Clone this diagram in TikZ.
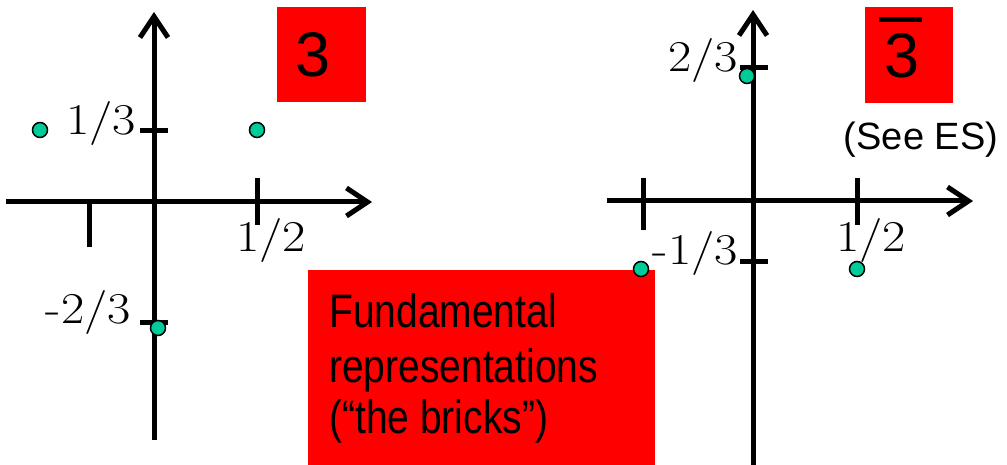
\documentclass[tikz,border=0pt]{standalone}
\usepackage{fontspec}
\setmainfont{Liberation Sans}
\newfontfamily\numfont[FakeStretch=1.15]{Latin Modern Roman}
\newfontfamily\narrowfont[FakeStretch=0.83]{Liberation Sans}
\usetikzlibrary{arrows.meta}
\definecolor{dotgreen}{RGB}{0,204,153}
\definecolor{boxred}{RGB}{255,0,0}
\begin{document}
\begin{tikzpicture}[x=1pt,y=-1pt,
  axis/.style={line width=5pt,-{Straight Barb[length=21pt,width=28pt]}},
  tickmark/.style={line width=5pt},
  dot/.style={circle,fill=dotgreen,draw=black,line width=1.5pt,minimum size=15pt,inner sep=0pt},
  lbl/.style={inner sep=0pt,font=\numfont\fontsize{44}{50}\selectfont},
  redbox/.style={fill=boxred,draw=none,inner sep=0pt},
  big/.style={inner sep=0pt,font=\fontsize{63}{70}\selectfont},
  brick/.style={inner sep=0pt,anchor=base west,font=\narrowfont\fontsize{47}{53}\selectfont}]
\useasboundingbox (0,0) rectangle (1007,465);
% ---------- left diagram ----------
\coordinate (Lxs) at (6,202);
\coordinate (Lxe) at (372,202);
\coordinate (Lys) at (154,440);
\coordinate (Lye) at (154,12);
\draw[axis] (Lxs) -- (Lxe);
\draw[axis] (Lys) -- (Lye);
\draw[tickmark] (140,131) -- (168,131);
\draw[tickmark] (140,322) -- (168,322);
\draw[tickmark] (257,178) -- (257,225);
\draw[tickmark] (89,202) -- (89,247);
\node[lbl,anchor=base east] (l13) at (136,135) {1/3};
\node[lbl,anchor=base west] (l12) at (236,252) {1/2};
\node[lbl,anchor=base east] (lm23) at (131,323) {-2/3};
\node[dot] (ld1) at (40,130) {};
\node[dot] (ld2) at (257,130) {};
\node[dot] (ld3) at (158,328) {};
\node[redbox,minimum width=89pt,minimum height=95pt] (box3) at (321,54.5) {};
\node[big,anchor=base] (t3) at (313,77) {3};
% ---------- right diagram ----------
\coordinate (Rxs) at (607,201);
\coordinate (Rxe) at (973,201);
\coordinate (Rys) at (753,470);
\coordinate (Rye) at (753,10);
\draw[axis] (Rxs) -- (Rxe);
\draw[axis] (Rys) -- (Rye);
\draw[tickmark] (740,68) -- (768,68);
\draw[tickmark] (740,262) -- (768,262);
\draw[tickmark] (643,178) -- (643,230);
\draw[tickmark] (857,178) -- (857,225);
\node[lbl,anchor=base east] (r23) at (738,72) {2/3};
\node[lbl,anchor=base east] (rm13) at (738,265) {-1/3};
\node[lbl,anchor=base west] (r12) at (836,252) {1/2};
% big red box
\node[redbox,minimum width=347pt,minimum height=195pt] (bricks) at (481.5,367.5) {};
\node[brick] (b1) at (329,327) {Fundamental};
\node[brick] (b2) at (329,382) {representations};
\node[brick] (b3) at (329,433) {(“the bricks”)};
\node[dot] (rd1) at (747,76) {};
\node[dot] (rd2) at (641,269) {};
\node[dot] (rd3) at (857,269) {};
\node[redbox,minimum width=88pt,minimum height=96pt] (box3b) at (909,55) {};
\node[big,anchor=base] (t3b) at (902,78) {3};
\draw[line width=5pt] (879,20) -- (922,20);
\node[inner sep=0pt,anchor=base,font=\fontsize{38}{42}\selectfont] (see) at (921,150) {(See ES)};
\end{tikzpicture}
\end{document}
